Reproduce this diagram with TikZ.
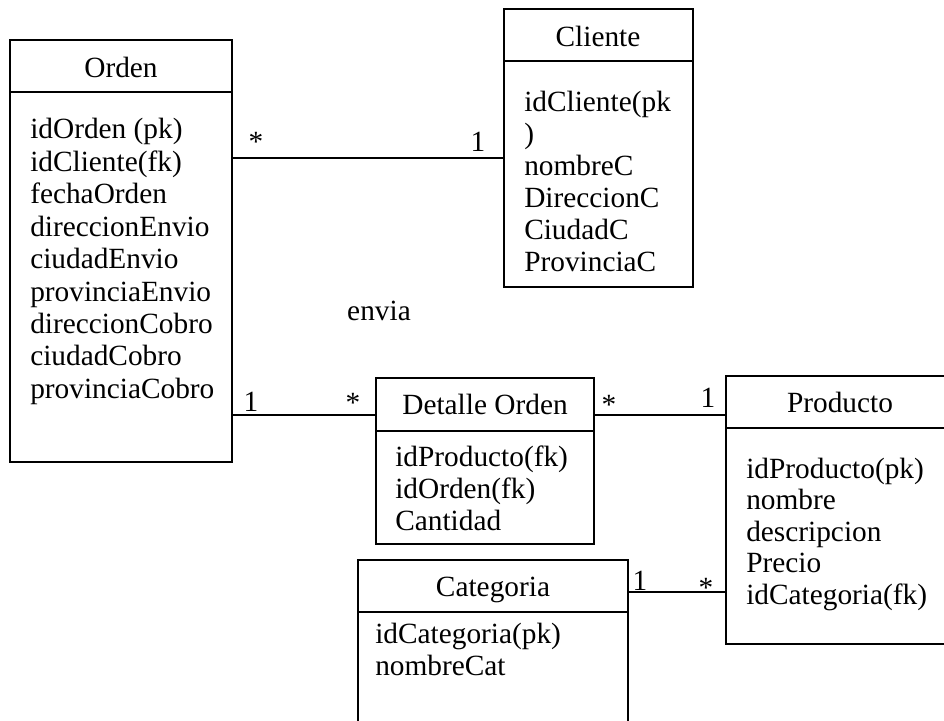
\documentclass[tikz,border=0pt]{standalone}
\usepackage{fontspec}
\setmainfont{Liberation Serif}
\usetikzlibrary{fit}
\begin{document}
\begin{tikzpicture}[x=0.75pt,y=-0.75pt,
  box/.style={draw, line width=1.4pt, rectangle, inner sep=0pt},
  sep/.style={line width=1.2pt},
  link/.style={line width=1.5pt},
  txt/.style={inner sep=0pt, font=\fontsize{22}{25}\selectfont},
  attr/.style={txt, anchor=base west},
  ttl/.style={txt, anchor=base},
  mult/.style={txt, anchor=base}]
\clip (0,0) rectangle (944,720);
\fill[white] (0,0) rectangle (944,720);

% boxes
\node[box, fit={(10,40) (232,462)}] (orden) {};
\node[box, fit={(504,9) (693,287)}] (cliente) {};
\node[box, fit={(376,378) (594,544)}] (detalle) {};
\node[box, fit={(726,376) (956,644)}] (producto) {};
\node[box, fit={(358,560) (628,740)}] (categoria) {};

% header separators
\draw[sep] (orden.west |- 0,92) -- (orden.east |- 0,92);
\draw[sep] (cliente.west |- 0,61) -- (cliente.east |- 0,61);
\draw[sep] (detalle.west |- 0,431) -- (detalle.east |- 0,431);
\draw[sep] (producto.west |- 0,428) -- (producto.east |- 0,428);
\draw[sep] (categoria.west |- 0,612) -- (categoria.east |- 0,612);

% titles
\node[ttl] (tOrden) at (121,78) {Orden};
\node[ttl] (tCliente) at (598,47) {Cliente};
\node[ttl] (tDetalle) at (485,414) {Detalle Orden};
\node[ttl] (tProducto) at (840,412) {Producto};
\node[ttl] (tCategoria) at (493,596) {Categoria};

% attributes
\foreach [count=\i] \t in {idOrden (pk), idCliente(fk), fechaOrden, direccionEnvio, ciudadEnvio, provinciaEnvio, direccionCobro, ciudadCobro, provinciaCobro}
  \node[attr] (ord\i) at (30,{139+(\i-1)*32.4}) {\t};
\foreach [count=\i] \t in {idCliente(pk, ), nombreC, DireccionC, CiudadC, ProvinciaC}
  \node[attr] (cli\i) at (524,{112+(\i-1)*31.8}) {\t};
\foreach [count=\i] \t in {idProducto(fk), idOrden(fk), Cantidad}
  \node[attr] (det\i) at (395,{466+(\i-1)*32}) {\t};
\foreach [count=\i] \t in {idProducto(pk), nombre, descripcion, Precio, idCategoria(fk)}
  \node[attr] (pro\i) at (746,{478+(\i-1)*31.6}) {\t};
\foreach [count=\i] \t in {idCategoria(pk), nombreCat}
  \node[attr] (cat\i) at (375,{643+(\i-1)*32}) {\t};

% connectors
\draw[link] (orden.east |- 0,158) -- (cliente.west |- 0,158);
\draw[link] (orden.east |- 0,415) -- (detalle.west |- 0,415);
\draw[link] (detalle.east |- 0,415) -- (producto.west |- 0,415);
\draw[link] (categoria.east |- 0,592) -- (producto.west |- 0,592);

% multiplicities
\node[mult] (m1) at (256,152) {*};
\node[mult] (m2) at (478,152) {1};
\node[mult] (m3) at (251,411) {1};
\node[mult] (m4) at (353,412) {*};
\node[mult] (m5) at (609,414) {*};
\node[mult] (m6) at (708,407) {1};
\node[mult] (m7) at (640,590) {1};
\node[mult] (m8) at (706,597) {*};

\node[txt, anchor=base] (envia) at (379,320) {envia};
\end{tikzpicture}
\end{document}
